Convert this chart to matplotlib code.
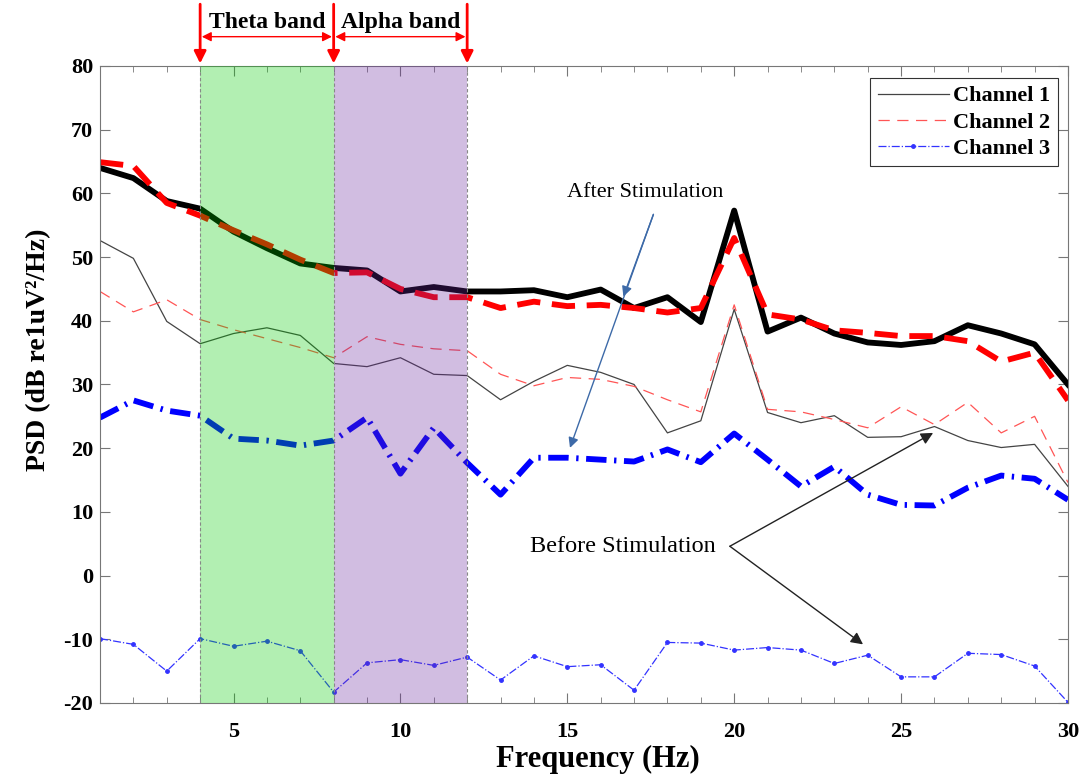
import matplotlib.pyplot as plt
from matplotlib.ticker import MultipleLocator

# frequencia (Hz) e PSD
freq = list(range(1, 31))

ch1_after = [64.0, 62.4, 58.8, 57.6, 54.0, 51.4, 49.0, 48.3, 47.9, 44.6,
             45.3, 44.6, 44.6, 44.8, 43.7, 44.9, 42.0, 43.7, 39.8, 57.3,
             38.3, 40.5, 38.0, 36.6, 36.2, 36.8, 39.3, 38.0, 36.3, 30.0]
ch2_after = [64.9, 64.3, 58.5, 56.5, 54.2, 52.0, 49.6, 47.5, 47.6, 45.0,
             43.7, 43.7, 42.0, 43.0, 42.3, 42.5, 42.0, 41.3, 42.0, 53.0,
             41.0, 40.2, 38.5, 38.1, 37.6, 37.6, 36.8, 33.6, 35.0, 27.5]
ch3_after = [24.8, 27.5, 25.9, 25.1, 21.5, 21.2, 20.4, 21.2, 24.8, 16.0,
             23.2, 17.7, 12.7, 18.5, 18.5, 18.2, 17.9, 19.8, 17.8, 22.3,
             18.2, 14.0, 17.1, 12.7, 11.1, 11.0, 13.8, 15.7, 15.2, 11.9]

ch1_before = [52.6, 49.8, 39.9, 36.4, 38.0, 38.9, 37.7, 33.3, 32.8, 34.2,
              31.6, 31.4, 27.6, 30.5, 33.0, 31.9, 30.0, 22.4, 24.3, 41.8,
              25.6, 24.0, 25.1, 21.7, 21.8, 23.4, 21.2, 20.1, 20.6, 14.0]
ch2_before = [44.6, 41.4, 43.3, 40.2, 38.6, 37.2, 35.8, 34.2, 37.5, 36.3,
              35.6, 35.3, 31.6, 29.8, 31.1, 30.8, 29.7, 27.6, 25.7, 42.5,
              26.1, 25.7, 24.5, 23.2, 26.5, 23.7, 27.2, 22.4, 25.0, 14.6]
ch3_before = [-9.9, -10.8, -15.0, -9.9, -11.1, -10.3, -11.8, -18.3, -13.7, -13.2,
              -14.1, -12.8, -16.4, -12.6, -14.3, -14.0, -18.0, -10.5, -10.6, -11.7,
              -11.3, -11.7, -13.8, -12.5, -15.9, -15.9, -12.2, -12.4, -14.2, -19.9]

theta = (4, 8)
alpha = (8, 12)

plt.rcParams['font.family'] = ['Liberation Serif', 'DejaVu Serif']
plt.rcParams['axes.unicode_minus'] = False

fig = plt.figure(figsize=(10.87, 7.79), dpi=100)
ax = fig.add_axes([0.092, 0.0976, 0.8905, 0.8177])

# curvas antes da estimulacao (finas)
ax.plot(freq, ch1_before, color="#444444", lw=0.9, label="Channel 1", zorder=2)
ax.plot(freq, ch2_before, color="#ff5555", lw=0.9, dashes=(9, 6), label="Channel 2", zorder=2)
ax.plot(freq, ch3_before, color="#3333ff", lw=0.9, ls="-.", marker=".", ms=5,
        label="Channel 3", zorder=2)

# curvas depois da estimulacao (grossas)
ax.plot(freq, ch1_after, color="black", lw=4.2, zorder=2)
ax.plot(freq, ch2_after, color="#ff0000", lw=4.2, dashes=(4, 2), zorder=2)
ax.plot(freq, ch3_after, color="#0000ff", lw=4.2, dashes=(3.5, 1.3, 0.4, 1.3), zorder=2)

# bandas
ax.axvspan(*theta, facecolor=(0, 0.8, 0), alpha=0.3, zorder=3, lw=0)
ax.axvspan(*alpha, facecolor=(0.41, 0.15, 0.61), alpha=0.3, zorder=3, lw=0)
for xb in (4, 8, 12):
    ax.axvline(xb, color="#888888", lw=0.8, ls=(0, (3, 2)), zorder=3)

ax.set_xlim(1, 30)
ax.set_ylim(-20, 80)
ax.xaxis.set_major_locator(MultipleLocator(5))
ax.xaxis.set_minor_locator(MultipleLocator(1))
ax.yaxis.set_major_locator(MultipleLocator(10))
ax.tick_params(which="both", direction="in", top=True, right=True, color="#777777")
ax.tick_params(which="major", length=7, labelsize=16)
ax.tick_params(which="minor", length=4)
ax.tick_params(axis="x", which="major", pad=14)
ax.tick_params(axis="y", which="major", pad=5)
for s in ax.spines.values():
    s.set_color("#777777")
for lab in ax.get_xticklabels() + ax.get_yticklabels():
    lab.set_fontweight("bold")

ax.set_xlabel("Frequency (Hz)", fontsize=22, fontweight="bold")
ax.xaxis.set_label_coords(0.514, -0.066)
ax.set_ylabel("PSD (dB re1uV²/Hz)", fontsize=20, fontweight="bold")
ax.yaxis.set_label_coords(-0.05, 0.554)

leg = ax.legend(loc="upper right", bbox_to_anchor=(0.99, 0.981),
                prop={"weight": "bold", "size": 16}, frameon=True, fancybox=False,
                edgecolor="black", handlelength=3.2, borderpad=0.35, labelspacing=0.25,
                handletextpad=0.2, borderaxespad=0)
leg.get_frame().set_linewidth(0.8)
leg.set_zorder(5)

# anotacoes das bandas no topo
for xb in (4, 8, 12):
    ax.annotate("", xy=(xb, 1.004), xycoords=("data", "axes fraction"),
                xytext=(xb, 1.097), textcoords=("data", "axes fraction"),
                arrowprops=dict(arrowstyle="-|>", color="red", lw=2,
                                mutation_scale=18, shrinkA=0, shrinkB=0),
                annotation_clip=False)
for (a, b), nome in ((theta, "Theta band"), (alpha, "Alpha band")):
    ax.annotate("", xy=(a + 0.05, 1.046), xycoords=("data", "axes fraction"),
                xytext=(b - 0.05, 1.046), textcoords=("data", "axes fraction"),
                arrowprops=dict(arrowstyle="<|-|>", color="red", lw=1,
                                mutation_scale=14, shrinkA=0, shrinkB=0),
                annotation_clip=False)
    ax.text((a + b) / 2, 1.068, nome, transform=ax.get_xaxis_transform(),
            ha="center", va="center", fontsize=17, fontweight="bold")

# setas de estimulacao
ax.text(17.33, 60.1, "After Stimulation", ha="center", va="center", fontsize=16, zorder=6)
for xy in ((16.68, 43.8), (15.08, 20.05)):
    ax.annotate("", xy=xy, xytext=(17.58, 56.7),
                arrowprops=dict(arrowstyle="-|>", color="#3d6aa8", lw=1,
                                mutation_scale=15, shrinkA=0, shrinkB=0), zorder=6)

ax.text(19.45, 4.5, "Before Stimulation", ha="right", va="center", fontsize=17.5, zorder=6)
for xy in ((25.96, 22.4), (23.86, -10.8)):
    ax.annotate("", xy=xy, xytext=(19.87, 4.6),
                arrowprops=dict(arrowstyle="-|>", color="#222222", lw=1,
                                mutation_scale=18, shrinkA=0, shrinkB=0), zorder=6)

fig.savefig("out.png", dpi=100)
